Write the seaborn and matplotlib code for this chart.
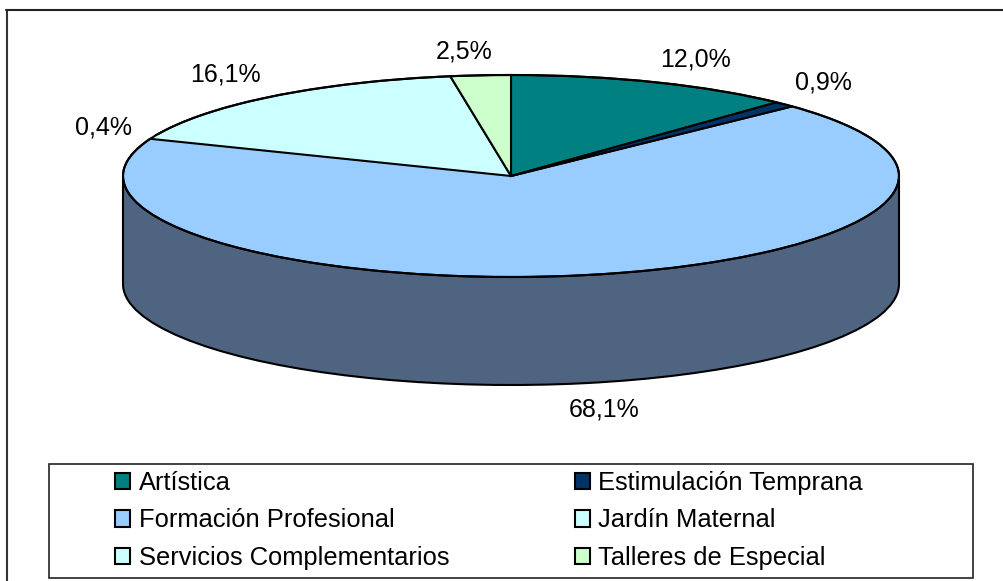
import matplotlib
matplotlib.use('Agg')
import matplotlib.pyplot as plt
from matplotlib.lines import Line2D
from matplotlib.patches import Ellipse, Rectangle
import seaborn as sns

categories = ['Artística', 'Estimulación Temprana', 'Formación Profesional',
              'Jardín Maternal', 'Servicios Complementarios', 'Talleres de Especial']
values = [12.0, 0.9, 68.1, 0.4, 16.1, 2.5]
# the 0,4% sliver and the 16,1% slice share the same pale cyan in the original
top_colors = ['#008080', '#003366', '#99CCFF', '#CCFFFF', '#CCFFFF', '#CCFFCC']
side_color = '#4F6480'

W, H = 1004, 581
cx, cy = 511, 176      # pixel centre of the top ellipse
rx, ry = 388, 101      # pixel radii
depth = 108            # pixel height of the wall
label_pos = [(695, 59), (823, 83), (604, 409), (104, 128), (225, 74), (464, 52)]


def fx(px):
    return px / W


def fy(py):
    return 1 - py / H


sns.set_theme(style='white')
plt.rcParams['font.family'] = ['Liberation Sans', 'DejaVu Sans']

fig = plt.figure(figsize=(W / 100, H / 100), dpi=100, facecolor='white')
ax = fig.add_axes([0, 0, 1, 1])

edge = {'edgecolor': 'black', 'linewidth': 1.5}
d = depth / ry

# wall: same pie pushed down, a band joining it to the top
ax.pie(values, startangle=90, counterclock=False, center=(0, -d),
       colors=[side_color] * len(values), wedgeprops=edge)
ax.add_patch(Rectangle((-1, -d), 2, d, facecolor=side_color, edgecolor='none'))
# hides the miter tips of the lower pie at its centre
ax.add_patch(Rectangle((-0.5, -d - 0.2), 1, 0.2, facecolor=side_color, edgecolor='none'))
ax.plot([-1, -1], [-d, 0], color='black', lw=1.5)
ax.plot([1, 1], [-d, 0], color='black', lw=1.5)

wedges, _ = ax.pie(values, startangle=90, counterclock=False, center=(0, 0),
                   colors=top_colors, wedgeprops=edge)

# the sliver melts into the 16,1% slice, only one radial line shows in the original
wedges[3].set_edgecolor(top_colors[3])
wedges[3].set_linewidth(2.5)
wedges[3].set_zorder(1.1)
wedges[2].set_zorder(1.2)
for i in (0, 1, 5):
    wedges[i].set_zorder(1.3)
ax.add_patch(Ellipse((0, 0), 2, 2, fill=False, edgecolor='black', lw=1.5, zorder=1.4))

ax.set_aspect('auto')
ax.set_xlim(-cx / rx, (W - cx) / rx)
ax.set_ylim(-(H - cy) / ry, cy / ry)
ax.axis('off')

for v, (px, py) in zip(values, label_pos):
    fig.text(fx(px), fy(py), f'{v:.1f}%'.replace('.', ','), ha='center', va='center',
             fontsize=18, color='black')

# chart area border, only left and top survive the crop
fig.add_artist(Line2D([fx(6.5), fx(6.5)], [fy(10), 0], color='#333333', lw=1.5))
fig.add_artist(Line2D([fx(6), 1], [fy(10), fy(10)], color='#222222', lw=1.5))

# legend box
fig.add_artist(Rectangle((fx(49), fy(578)), 924 / W, 114 / H, transform=fig.transFigure,
                         facecolor='white', edgecolor='#222222', lw=1.2))

# ncol fills by column, the original reads by row
order = [0, 2, 4, 1, 3, 5]
leg = fig.legend([wedges[i] for i in order], [categories[i] for i in order], ncol=2,
                 loc='upper left', bbox_to_anchor=(fx(110), fy(466)), borderaxespad=0,
                 frameon=False, fontsize=18.4, borderpad=0.2, labelspacing=0.52,
                 handlelength=0.6, handleheight=0.6, handletextpad=0.32,
                 columnspacing=4.92, labelcolor='black')
leg.set_zorder(5)
for h in leg.legend_handles:
    h.set_edgecolor('black')
    h.set_linewidth(1.5)

fig.savefig('out.png', dpi=100)
